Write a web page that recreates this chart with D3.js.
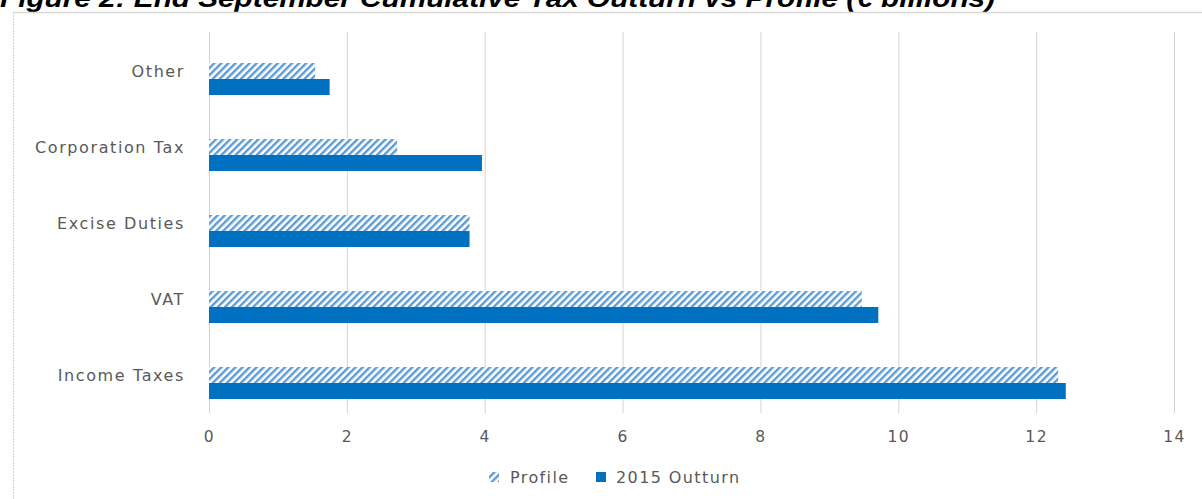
<!DOCTYPE html>
<html><head><meta charset="utf-8">
<script src="https://cdn.jsdelivr.net/npm/d3@7"></script>
<style>body{margin:0;background:#fff;overflow:hidden}svg{display:block}</style>
</head><body>
<svg id="c" width="1202" height="499"></svg>
<script>
const categories = ["Other", "Corporation Tax", "Excise Duties", "VAT", "Income Taxes"];
const profile = [1.54, 2.73, 3.78, 9.47, 12.32];
const outturn = [1.75, 3.96, 3.78, 9.71, 12.43];
const seriesNames = ["Profile", "2015 Outturn"];
const xTicks = [0, 2, 4, 6, 8, 10, 12, 14];
const title = "Figure 2: End September Cumulative Tax Outturn vs Profile (€ billions)";

const svg = d3.select("#c");
const font = "'DejaVu Sans', 'Open Sans', sans-serif";
const blue = "#0070C0", hatchCol = "#5B9BD5", grid = "#d4d4d4", txt = "#595959";

const defs = svg.append("defs");
const pat = defs.append("pattern").attr("id","hatch").attr("patternUnits","userSpaceOnUse")
  .attr("width",5).attr("height",5).attr("patternTransform","rotate(45)");
pat.append("rect").attr("width",5).attr("height",5).attr("fill","#fff");
pat.append("rect").attr("x",0).attr("y",0).attr("width",2.4).attr("height",5).attr("fill",hatchCol);

// title (clipped at top as in reference)
svg.append("text").attr("x",0).attr("y",7).attr("font-family","'Liberation Sans', Arial, sans-serif")
  .attr("font-weight","bold").attr("font-style","italic").attr("font-size",26).attr("fill","#000")
  .attr("textLength",995).attr("lengthAdjust","spacingAndGlyphs")
  .text(title);

// frame
svg.append("line").attr("x1",13).attr("x2",1202).attr("y1",12.5).attr("y2",12.5).attr("stroke","#d9d9d9").attr("stroke-width",1.5);
svg.append("line").attr("x1",13.5).attr("x2",13.5).attr("y1",12).attr("y2",499).attr("stroke","#cfcfcf").attr("stroke-dasharray","2,1");

const x = d3.scaleLinear().domain([0,14]).range([209,1174]);
const y = d3.scaleBand().domain(categories).range([41,421]);
const sub = d3.scaleBand().domain(seriesNames).range([-16,16]);

const gTop = 32, gBot = 413;
// gridlines
svg.append("g").selectAll("line").data(xTicks).join("line")
  .attr("x1",d=>x(d)+0.5).attr("x2",d=>x(d)+0.5).attr("y1",gTop).attr("y2",gBot)
  .attr("stroke",grid).attr("stroke-width",1);

// x axis labels
const xAxis = d3.axisBottom(x).tickValues(xTicks).tickSize(0).tickPadding(0).tickFormat(d3.format("d"));
const gx = svg.append("g").attr("transform",`translate(0,${gBot+29})`).call(xAxis);
gx.select(".domain").remove();
gx.selectAll("text").attr("font-family",font).attr("font-size",15.5).attr("letter-spacing","1.5px").attr("fill",txt).attr("dy",0);

// y axis labels
const yAxis = d3.axisLeft(y).tickSize(0).tickPadding(0);
const gy = svg.append("g").attr("transform","translate(185,-7)").call(yAxis);
gy.select(".domain").remove();
gy.selectAll("text").attr("font-family",font).attr("font-size",16).attr("letter-spacing","1.6px").attr("fill",txt).attr("dy","0.32em");

// bars
const rows = categories.map((c,i)=>({c, vals:[profile[i], outturn[i]]}));
const gb = svg.append("g");
rows.forEach(r=>{
  const cy = y(r.c) + y.bandwidth()/2;
  seriesNames.forEach((s,j)=>{
    gb.append("rect").attr("x",x(0)).attr("y",cy+sub(s)).attr("width",x(r.vals[j])-x(0)).attr("height",sub.bandwidth())
      .attr("fill", j===0 ? "url(#hatch)" : blue);
  });
});

// legend
const lg = svg.append("g").attr("transform","translate(0,477)");
lg.append("rect").attr("x",489).attr("y",-5).attr("width",10).attr("height",10).attr("fill","url(#hatch)");
lg.append("text").attr("x",510).attr("y",0).attr("dy","0.35em").attr("font-family",font).attr("font-size",16).attr("letter-spacing","1.4px").attr("fill",txt).text(seriesNames[0]);
lg.append("rect").attr("x",596).attr("y",-5).attr("width",10).attr("height",10).attr("fill",blue);
lg.append("text").attr("x",616).attr("y",0).attr("dy","0.35em").attr("font-family",font).attr("font-size",16).attr("letter-spacing","1.4px").attr("fill",txt).text(seriesNames[1]);
</script>
</body></html>
